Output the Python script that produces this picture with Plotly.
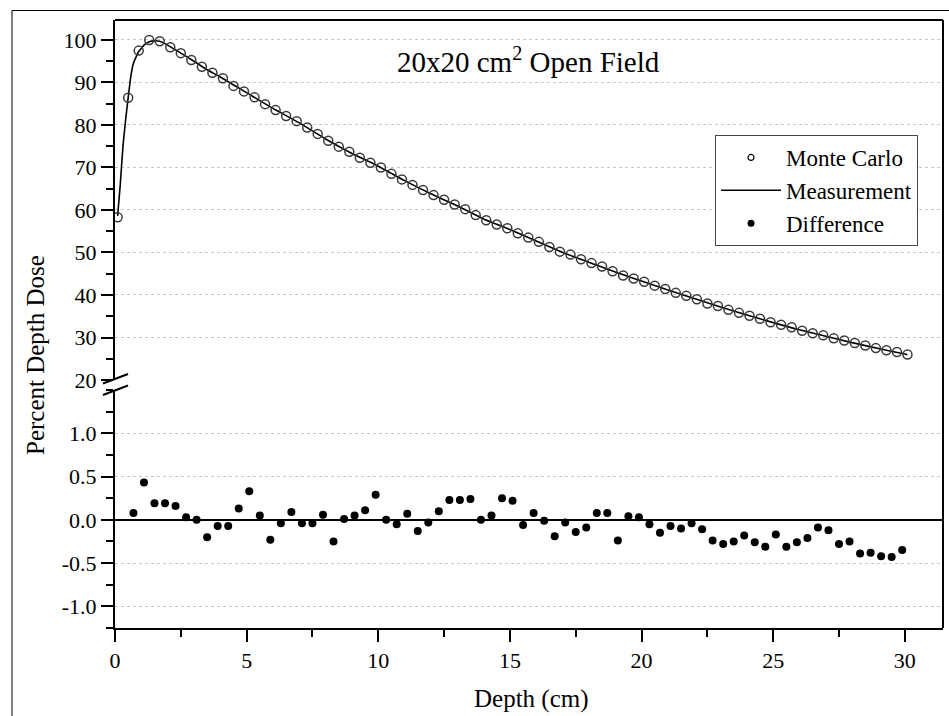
import plotly.graph_objects as go

# Monte Carlo depth-dose points (cm, %)
mc_depth = [0.1, 0.5, 0.9, 1.3, 1.7, 2.1, 2.5, 2.9, 3.3, 3.7, 4.1, 4.5, 4.9, 5.3, 5.7, 6.1,
            6.5, 6.9, 7.3, 7.7, 8.1, 8.5, 8.9, 9.3, 9.7, 10.1, 10.5, 10.9, 11.3, 11.7, 12.1,
            12.5, 12.9, 13.3, 13.7, 14.1, 14.5, 14.9, 15.3, 15.7, 16.1, 16.5, 16.9, 17.3,
            17.7, 18.1, 18.5, 18.9, 19.3, 19.7, 20.1, 20.5, 20.9, 21.3, 21.7, 22.1, 22.5,
            22.9, 23.3, 23.7, 24.1, 24.5, 24.9, 25.3, 25.7, 26.1, 26.5, 26.9, 27.3, 27.7,
            28.1, 28.5, 28.9, 29.3, 29.7, 30.1]
mc_pdd = [58.3, 86.4, 97.5, 100.0, 99.7, 98.3, 96.9, 95.3, 93.7, 92.3, 91.0, 89.2, 87.9, 86.5,
          84.9, 83.5, 82.1, 80.9, 79.4, 77.9, 76.3, 74.9, 73.7, 72.3, 71.1, 70.0, 68.5, 67.2,
          65.9, 64.7, 63.5, 62.4, 61.3, 60.2, 58.8, 57.6, 56.6, 55.7, 54.5, 53.5, 52.5, 51.3,
          50.2, 49.5, 48.4, 47.5, 46.7, 45.6, 44.6, 43.9, 43.1, 42.2, 41.4, 40.5, 39.8, 39.0,
          38.0, 37.4, 36.5, 35.8, 35.1, 34.4, 33.6, 33.0, 32.4, 31.6, 31.0, 30.5, 29.8, 29.3,
          28.7, 28.1, 27.5, 27.0, 26.6, 26.0]

# Measured depth-dose curve (cm, %)
meas_depth = [0.1, 0.2, 0.3, 0.4, 0.5, 0.6, 0.7, 0.8, 0.9, 1.0, 1.1, 1.3, 1.5, 1.7, 2.0,
              2.5, 3.0, 3.5, 4.0, 5.0, 6.0, 7.0, 8.0, 9.0, 10.0, 11.0, 12.0, 13.0, 14.0,
              15.0, 16.0, 17.0, 18.0, 19.0, 20.0, 21.0, 22.0, 23.0, 24.0, 25.0, 26.0,
              27.0, 28.0, 29.0, 30.0, 30.1]
meas_pdd = [58.6, 66.0, 74.8, 81.0, 86.4, 91.4, 94.5, 96.0, 97.3, 98.0, 98.8, 99.6, 99.8,
            99.7, 98.8, 96.9, 95.0, 93.0, 91.3, 87.6, 83.9, 80.5, 76.7, 73.3, 70.3, 66.9,
            63.8, 61.0, 57.9, 55.4, 52.7, 50.0, 47.7, 45.4, 43.3, 41.2, 39.2, 37.2, 35.3,
            33.5, 31.8, 30.3, 28.8, 27.4, 26.1, 25.95]

# Monte Carlo minus measurement (%)
diff_depth = [0.7, 1.1, 1.5, 1.9, 2.3, 2.7, 3.1, 3.5, 3.9, 4.3, 4.7, 5.1, 5.5, 5.9, 6.3, 6.7,
              7.1, 7.5, 7.9, 8.3, 8.7, 9.1, 9.5, 9.9, 10.3, 10.7, 11.1, 11.5, 11.9, 12.3,
              12.7, 13.1, 13.5, 13.9, 14.3, 14.7, 15.1, 15.5, 15.9, 16.3, 16.7, 17.1, 17.5,
              17.9, 18.3, 18.7, 19.1, 19.5, 19.9, 20.3, 20.7, 21.1, 21.5, 21.9, 22.3, 22.7,
              23.1, 23.5, 23.9, 24.3, 24.7, 25.1, 25.5, 25.9, 26.3, 26.7, 27.1, 27.5, 27.9,
              28.3, 28.7, 29.1, 29.5, 29.9]
diff_val = [0.08, 0.43, 0.19, 0.19, 0.16, 0.03, 0.00, -0.20, -0.07, -0.07, 0.13, 0.33, 0.05,
            -0.23, -0.04, 0.09, -0.04, -0.04, 0.06, -0.25, 0.01, 0.05, 0.11, 0.29, 0.00,
            -0.05, 0.07, -0.13, -0.03, 0.10, 0.23, 0.23, 0.24, 0.00, 0.05, 0.25, 0.22,
            -0.06, 0.08, -0.01, -0.19, -0.03, -0.14, -0.09, 0.08, 0.08, -0.24, 0.04, 0.03,
            -0.05, -0.15, -0.07, -0.10, -0.04, -0.11, -0.24, -0.28, -0.25, -0.18, -0.26,
            -0.31, -0.17, -0.31, -0.26, -0.21, -0.09, -0.12, -0.28, -0.25, -0.39, -0.38,
            -0.42, -0.43, -0.35]

x_ticks = [0, 5, 10, 15, 20, 25, 30]
pdd_ticks = [20, 30, 40, 50, 60, 70, 80, 90, 100]
diff_ticks = [-1.0, -0.5, 0.0, 0.5, 1.0]

W, H = 949, 716
L, R, T, B = 115, 943, 20, 628  # plot area in pixels


def px(x):
    return (x - L) / (R - L)


def py(y):
    return (B - y) / (B - T)


FONT = "Liberation Serif, Times New Roman, serif"
BLACK = "#000000"
GRID = "#c8c8c8"

fig = go.Figure()

# Measurement curve and Monte Carlo points (upper panel)
fig.add_trace(go.Scatter(x=meas_depth, y=meas_pdd, mode="lines", xaxis="x", yaxis="y2",
                         line=dict(color=BLACK, width=1.6, shape="spline", smoothing=0.6),
                         showlegend=False, hoverinfo="skip"))
fig.add_trace(go.Scatter(x=mc_depth, y=mc_pdd, mode="markers", xaxis="x", yaxis="y2",
                         marker=dict(symbol="circle-open", size=9, color="#3a3a3a",
                                     line=dict(width=1.5, color="#3a3a3a")),
                         showlegend=False))
# Difference points (lower panel)
fig.add_trace(go.Scatter(x=diff_depth, y=diff_val, mode="markers", xaxis="x", yaxis="y",
                         marker=dict(symbol="circle", size=8, color=BLACK),
                         showlegend=False))

# Legend entries
fig.add_trace(go.Scatter(x=[None], y=[None], mode="markers", name="Monte Carlo",
                         xaxis="x", yaxis="y2",
                         marker=dict(symbol="circle-open", size=6, color=BLACK,
                                     line=dict(width=1.2, color=BLACK))))
fig.add_trace(go.Scatter(x=[None], y=[None], mode="lines", name="Measurement",
                         xaxis="x", yaxis="y2", line=dict(color=BLACK, width=1.5)))
fig.add_trace(go.Scatter(x=[None], y=[None], mode="markers", name="Difference",
                         xaxis="x", yaxis="y", marker=dict(symbol="circle", size=7, color=BLACK)))

tickfont = dict(family=FONT, size=22, color=BLACK)

fig.update_layout(
    width=W, height=H,
    margin=dict(l=L, r=W - R, t=T, b=H - B, pad=0),
    paper_bgcolor="white", plot_bgcolor="white",
    template="none",
    font=dict(family=FONT, color=BLACK),
    xaxis=dict(
        range=[0, 31.45], domain=[0, 1], anchor="y",
        tickmode="array", tickvals=x_ticks, ticktext=[str(v) for v in x_ticks],
        ticks="outside", ticklen=12, tickwidth=2, tickcolor=BLACK,
        minor=dict(dtick=2.5, tick0=0, ticks="outside", ticklen=7, tickwidth=2,
                   tickcolor=BLACK, showgrid=False),
        showline=True, linewidth=2, linecolor=BLACK, mirror=False,
        showgrid=False, zeroline=False, tickfont=tickfont,
    ),
    yaxis=dict(
        domain=[0, py(390)], range=[-1.25, 1.5], anchor="x",
        tickmode="array", tickvals=diff_ticks, ticktext=[f"{v:.1f}" for v in diff_ticks],
        ticks="outside", ticklen=12, tickwidth=2, tickcolor=BLACK,
        minor=dict(dtick=0.25, tick0=0, ticks="outside", ticklen=7, tickwidth=2,
                   tickcolor=BLACK, showgrid=False),
        showline=True, linewidth=2, linecolor=BLACK,
        showgrid=True, gridcolor=GRID, gridwidth=1, griddash="dot",
        zeroline=True, zerolinecolor=BLACK, zerolinewidth=1.8,
        tickfont=tickfont,
    ),
    yaxis2=dict(
        domain=[py(380), 1], range=[20, 104.7], anchor="x",
        tickmode="array", tickvals=pdd_ticks, ticktext=[str(v) for v in pdd_ticks],
        ticks="outside", ticklen=12, tickwidth=2, tickcolor=BLACK,
        minor=dict(dtick=5, tick0=0, ticks="outside", ticklen=7, tickwidth=2,
                   tickcolor=BLACK, showgrid=False),
        showline=True, linewidth=2, linecolor=BLACK,
        showgrid=True, gridcolor=GRID, gridwidth=1, griddash="dot",
        zeroline=False, tickfont=tickfont,
    ),
    legend=dict(
        x=px(715), y=py(135), xanchor="left", yanchor="top",
        bgcolor="white", bordercolor="#444444", borderwidth=1,
        font=dict(family=FONT, size=23, color=BLACK),
        itemwidth=60, tracegroupgap=0, traceorder="normal",
    ),
)

shapes = [
    # frame: top and right edges of the plot area
    dict(type="line", xref="paper", yref="paper", x0=0, x1=1, y0=1, y1=1,
         line=dict(color=BLACK, width=2)),
    dict(type="line", xref="paper", yref="paper", x0=1, x1=1, y0=0, y1=1,
         line=dict(color=BLACK, width=2)),
    # outer border of the figure
    dict(type="rect", xref="paper", yref="paper", x0=px(12), x1=px(970), y0=py(740), y1=py(10.5),
         line=dict(color=BLACK, width=1), fillcolor="rgba(0,0,0,0)", layer="below"),
    # axis break marks
    dict(type="line", xref="paper", yref="paper", x0=px(103), x1=px(128), y0=py(383.5), y1=py(374),
         line=dict(color=BLACK, width=2)),
    dict(type="line", xref="paper", yref="paper", x0=px(103), x1=px(128), y0=py(395), y1=py(385.5),
         line=dict(color=BLACK, width=2)),
]
fig.update_layout(shapes=shapes)

annotations = [
    dict(text="20x20 cm<sup>2</sup> Open Field", xref="paper", yref="paper",
         x=px(528), y=py(60), xanchor="center", yanchor="middle", showarrow=False,
         font=dict(family=FONT, size=29, color=BLACK)),
    dict(text="Percent Depth Dose", xref="paper", yref="paper",
         x=px(35), y=py(355), xanchor="center", yanchor="middle", textangle=-90,
         showarrow=False, font=dict(family=FONT, size=25, color=BLACK)),
    dict(text="Depth (cm)", xref="paper", yref="paper",
         x=px(531), y=py(699), xanchor="center", yanchor="middle",
         showarrow=False, font=dict(family=FONT, size=25, color=BLACK)),
]
fig.update_layout(annotations=annotations)

fig.write_html("out.html")
